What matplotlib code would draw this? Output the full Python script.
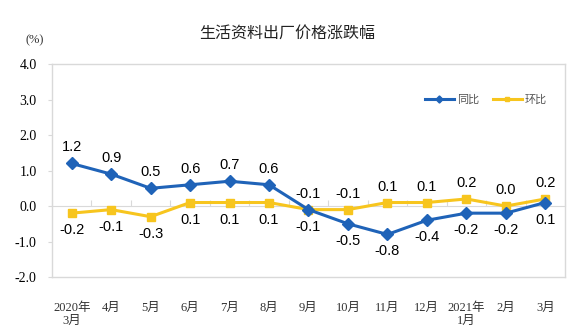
import numpy as np
import matplotlib
matplotlib.use('Agg')
import matplotlib.pyplot as plt

# data
months = ['2020年\n3月', '4月', '5月', '6月', '7月', '8月', '9月',
          '10月', '11月', '12月', '2021年\n1月', '2月', '3月']
yoy = [1.2, 0.9, 0.5, 0.6, 0.7, 0.6, -0.1, -0.5, -0.8, -0.4, -0.2, -0.2, 0.1]
mom = [-0.2, -0.1, -0.3, 0.1, 0.1, 0.1, -0.1, -0.1, 0.1, 0.1, 0.2, 0.0, 0.2]

BLUE = '#1f63b8'
YELLOW = '#f7c51e'
FRAME = '#d9d9d9'
SANS = ['Liberation Sans', 'Noto Sans CJK SC']
SERIF = ['Liberation Serif', 'Noto Sans CJK SC']

x = np.arange(len(months))

fig = plt.figure(figsize=(5.75, 3.29), dpi=100)
ax = fig.add_axes([0.0904, 0.158, 0.8922, 0.647])

ax.plot(x, yoy, color=BLUE, lw=2.2, marker='D', ms=6, label='同比', zorder=3)
ax.plot(x, mom, color=YELLOW, lw=2.2, marker='s', ms=6, label='环比', zorder=2)

# data labels: 同比 above for the first six months, below afterwards
for i in x:
    up = i < 6
    ax.annotate('%.1f' % yoy[i], (i, yoy[i]), xytext=(0, 16 if up else -17),
                textcoords='offset pixels',
                ha='center', va='center', fontsize=10.5, family=SANS)
    ax.annotate('%.1f' % mom[i], (i, mom[i]), xytext=(0, -17 if up else 16),
                textcoords='offset pixels',
                ha='center', va='center', fontsize=10.5, family=SANS)

ax.set_xlim(-0.5, len(months) - 0.5)
ax.set_ylim(-2.0, 4.0)
ax.set_yticks(np.arange(-2, 4.1, 1.0))
ax.set_yticklabels(['%.1f' % v for v in np.arange(-2, 4.1, 1.0)],
                   family=SERIF, fontsize=10)
ax.set_xticks(x)
ax.set_xticklabels(months, family=SERIF, fontsize=9, color='#333333',
                   linespacing=1.15, va='top')
ax.tick_params(axis='x', length=0, pad=18)
ax.tick_params(axis='y', length=3, color=FRAME, pad=8)
for s in ax.spines.values():
    s.set_color(FRAME)
    s.set_linewidth(1)

# zero line with category boundary ticks
zero = ax.secondary_xaxis(1 / 3)
zero.set_xticks(np.arange(-0.5, len(months), 1.0))
zero.tick_params(direction='in', length=4, color=FRAME, labelbottom=False,
                 labeltop=False)
zero.spines['bottom'].set_color(FRAME)
zero.spines['top'].set_color(FRAME)

leg = ax.legend(loc='upper right', bbox_to_anchor=(0.985, 0.905), ncol=2,
                frameon=False, prop={'family': SANS, 'size': 8},
                handlelength=2.6, markerscale=0.6, columnspacing=1.2,
                handletextpad=0.3)
for t in leg.get_texts():
    t.set_color('#555555')

fig.text(0.5, 0.9, '生活资料出厂价格涨跌幅', ha='center', va='center',
         fontsize=11.5, family=SANS, color='#222222')
fig.text(0.061, 0.878, '(%)', ha='center', va='center', fontsize=9,
         family=SERIF, color='#333333')

fig.savefig('out.png', dpi=100)
